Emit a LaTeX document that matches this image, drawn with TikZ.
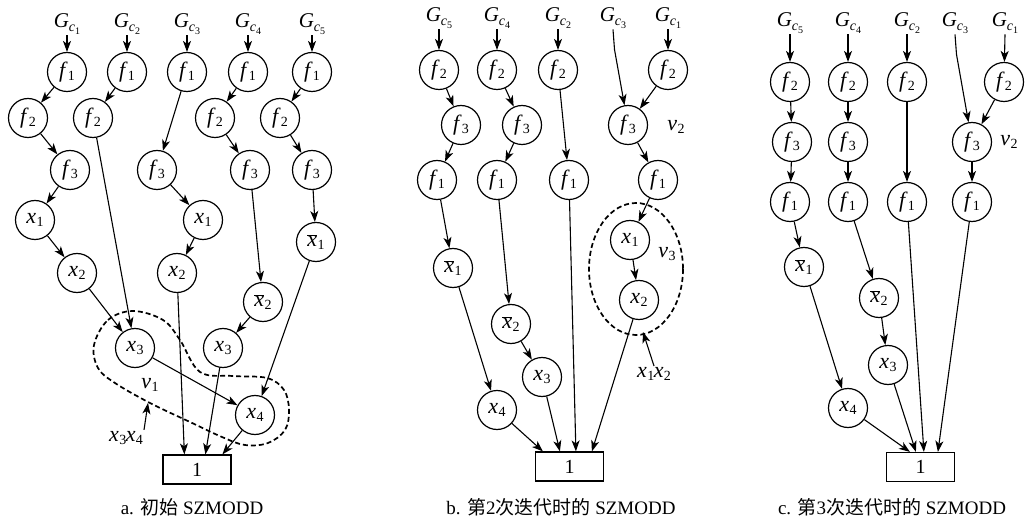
\documentclass[tikz,border=0pt]{standalone}
\usepackage{fontspec}
\setmainfont{Liberation Serif}
\newfontfamily\cjk{Noto Sans CJK SC}
\usetikzlibrary{arrows.meta}
\newcommand\sub[1]{\raisebox{-0.35ex}{\fontsize{14}{14}\selectfont #1}}
\newcommand\lab[2]{\textit{#1}\kern0.3pt\sub{#2}}
\newcommand\nlab[2]{$\overline{\mbox{\textit{#1}}}$\kern0.3pt\sub{#2}}
\newcommand\Gc[1]{\textit{G}\raisebox{-0.45ex}{\fontsize{14}{14}\selectfont\textit{c}\raisebox{-0.35ex}{\fontsize{10}{10}\selectfont #1}}}
\tikzset{
 vtx/.style={circle, draw, line width=1.2pt, minimum size=39pt, inner sep=0pt, font=\fontsize{22}{22}\selectfont},
 lbl/.style={inner sep=1pt, font=\fontsize{22}{22}\selectfont},
 glab/.style={inner sep=1pt, font=\fontsize{21}{21}\selectfont},
 arr/.style={-{Stealth[length=11pt,width=8pt,inset=3pt]}, line width=1.1pt},
 onebox/.style={draw, line width=1.2pt, minimum width=68pt, minimum height=29pt, inner sep=0pt, font=\fontsize{20}{20}\selectfont},
 captext/.style={inner sep=0pt, font=\fontsize{19}{19}\selectfont},
 blob/.style={line width=1.7pt, dash pattern=on 5pt off 3pt}
}
\begin{document}
\begin{tikzpicture}[x=1pt,y=-1pt]
\useasboundingbox (0,0) rectangle (1025,521);
% ================= panel a =================
\node[glab] (aG1) at (67,24) {\Gc{1}};
\node[glab] (aG2) at (127,24) {\Gc{2}};
\node[glab] (aG3) at (187,24) {\Gc{3}};
\node[glab] (aG4) at (248,24) {\Gc{4}};
\node[glab] (aG5) at (312,24) {\Gc{5}};
\node[vtx] (a1f1) at (67,72) {\lab{f}{1}};
\node[vtx] (a2f1) at (127,72) {\lab{f}{1}};
\node[vtx] (a3f1) at (187,72) {\lab{f}{1}};
\node[vtx] (a4f1) at (248,72) {\lab{f}{1}};
\node[vtx] (a5f1) at (312,72) {\lab{f}{1}};
\node[vtx] (a1f2) at (28,118) {\lab{f}{2}};
\node[vtx] (a2f2) at (93,118) {\lab{f}{2}};
\node[vtx] (a4f2) at (215,118) {\lab{f}{2}};
\node[vtx] (a5f2) at (280,118) {\lab{f}{2}};
\node[vtx] (a1f3) at (70,170) {\lab{f}{3}};
\node[vtx] (a3f3) at (157,170) {\lab{f}{3}};
\node[vtx] (a4f3) at (250,170) {\lab{f}{3}};
\node[vtx] (a5f3) at (312,170) {\lab{f}{3}};
\node[vtx] (a1x1) at (35,220) {\lab{x}{1}};
\node[vtx] (a3x1) at (203,220) {\lab{x}{1}};
\node[vtx] (a5nx1) at (316,242) {\nlab{x}{1}};
\node[vtx] (a1x2) at (77,273) {\lab{x}{2}};
\node[vtx] (a3x2) at (177,273) {\lab{x}{2}};
\node[vtx] (a4nx2) at (263,302) {\nlab{x}{2}};
\node[vtx] (ax3) at (135,348) {\lab{x}{3}};
\node[vtx] (a4x3) at (223,348) {\lab{x}{3}};
\node[vtx] (ax4) at (255,415) {\lab{x}{4}};
\node[onebox] (abox) at (197,469.5) {1};
\node[captext] (acap) at (192,507) {a. {\cjk 初始} SZMODD};
\node[lbl] (av1) at (150,385) {\lab{v}{1}};
\node[lbl] (ax3x4) at (126,438) {\lab{x}{3}\kern-0.5pt\lab{x}{4}};
\coordinate (aTip) at (148,403);
\draw[blob] plot[smooth cycle, tension=0.6] coordinates {(94,345) (108,320) (133,311) (163,320) (180,340) (200,372) (233,376) (267,378) (284,390) (289,410) (285,430) (268,443) (245,445) (222,437) (190,422) (150,403) (115,383) (98,368)};
\foreach \i in {1,...,5} {\draw[arr] (aG\i.south) -- (a\i f1);}
\draw[arr] (a1f1) -- (a1f2);
\draw[arr] (a1f2) -- (a1f3);
\draw[arr] (a1f3) -- (a1x1);
\draw[arr] (a1x1) -- (a1x2);
\draw[arr] (a1x2) -- (ax3);
\draw[arr] (a2f1) -- (a2f2);
\draw[arr] (a2f2) -- (ax3);
\draw[arr] (a3f1) -- (a3f3);
\draw[arr] (a3f3) -- (a3x1);
\draw[arr] (a3x1) -- (a3x2);
\draw[arr] (a3x2) -- ([xshift=22pt]abox.north west);
\draw[arr] (a4f1) -- (a4f2);
\draw[arr] (a4f2) -- (a4f3);
\draw[arr] (a4f3) -- (a4nx2);
\draw[arr] (a4nx2) -- (a4x3);
\draw[arr] (a4x3) -- ([xshift=43pt]abox.north west);
\draw[arr] (a5f1) -- (a5f2);
\draw[arr] (a5f2) -- (a5f3);
\draw[arr] (a5f3) -- (a5nx1);
\draw[arr] (a5nx1) -- (ax4);
\draw[arr] (ax3) -- (ax4);
\draw[arr] (ax4) -- ([xshift=60pt]abox.north west);
\draw[arr] (ax3x4.north east) -- (aTip);
% ================= panel b =================
\node[glab] (bG5) at (439,18) {\Gc{5}};
\node[glab] (bG4) at (497,18) {\Gc{4}};
\node[glab] (bG2) at (558,18) {\Gc{2}};
\node[glab] (bG3) at (613,18) {\Gc{3}};
\node[glab] (bG1) at (668,18) {\Gc{1}};
\node[vtx] (b1f2) at (439,70) {\lab{f}{2}};
\node[vtx] (b2f2) at (497,70) {\lab{f}{2}};
\node[vtx] (b3f2) at (558,70) {\lab{f}{2}};
\node[vtx] (b5f2) at (668,70) {\lab{f}{2}};
\node[vtx] (b1f3) at (461,125) {\lab{f}{3}};
\node[vtx] (b2f3) at (522,125) {\lab{f}{3}};
\node[vtx] (b4f3) at (628,125) {\lab{f}{3}};
\node[vtx] (b1f1) at (437,180) {\lab{f}{1}};
\node[vtx] (b2f1) at (497,180) {\lab{f}{1}};
\node[vtx] (b3f1) at (569,180) {\lab{f}{1}};
\node[vtx] (b4f1) at (658,180) {\lab{f}{1}};
\node[vtx] (bx1) at (630,240) {\lab{x}{1}};
\node[vtx] (bx2) at (639,300) {\lab{x}{2}};
\node[vtx] (bnx1) at (453,268) {\nlab{x}{1}};
\node[vtx] (bnx2) at (511,324) {\nlab{x}{2}};
\node[vtx] (bx3) at (542,377) {\lab{x}{3}};
\node[vtx] (bx4) at (497,410) {\lab{x}{4}};
\node[onebox] (bbox) at (569.5,466.5) {1};
\node[captext] (bcap) at (561,507) {b. {\cjk 第}2{\cjk 次迭代时的} SZMODD};
\node[lbl] (bv2) at (676,127) {\lab{v}{2}};
\node[lbl] (bv3) at (667,254) {\lab{v}{3}};
\node[lbl] (bx1x2) at (654,374) {\lab{x}{1}\kern-0.5pt\lab{x}{2}};
\coordinate (bTip) at (643,332);
\draw[blob] (636,269) ellipse [x radius=47, y radius=66];
\draw[arr] (bG5.south) -- (b1f2);
\draw[arr] (bG4.south) -- (b2f2);
\draw[arr] (bG2.south) -- (b3f2);
\draw[arr] (bG1.south) -- (b5f2);
\draw[arr] (bG3.south) -- ++(1.5,20) -- (b4f3);
\draw[arr] (b1f2) -- (b1f3);
\draw[arr] (b1f3) -- (b1f1);
\draw[arr] (b1f1) -- (bnx1);
\draw[arr] (bnx1) -- (bx4);
\draw[arr] (bx4) -- ([xshift=8pt]bbox.north west);
\draw[arr] (b2f2) -- (b2f3);
\draw[arr] (b2f3) -- (b2f1);
\draw[arr] (b2f1) -- (bnx2);
\draw[arr] (bnx2) -- (bx3);
\draw[arr] (bx3) -- ([xshift=25pt]bbox.north west);
\draw[arr] (b3f2) -- (b3f1);
\draw[arr] (b3f1) -- ([xshift=41pt]bbox.north west);
\draw[arr] (b5f2) -- (b4f3);
\draw[arr] (b4f3) -- (b4f1);
\draw[arr] (b4f1) -- (bx1);
\draw[arr] (bx1) -- (bx2);
\draw[arr] (bx2) -- ([xshift=57pt]bbox.north west);
\draw[arr] (bx1x2.north) -- (bTip);
% ================= panel c =================
\node[glab] (cG5) at (790,23) {\Gc{5}};
\node[glab] (cG4) at (848,23) {\Gc{4}};
\node[glab] (cG2) at (907,23) {\Gc{2}};
\node[glab] (cG3) at (955,23) {\Gc{3}};
\node[glab] (cG1) at (1005,23) {\Gc{1}};
\node[vtx] (c1f2) at (790,82) {\lab{f}{2}};
\node[vtx] (c2f2) at (848,82) {\lab{f}{2}};
\node[vtx] (c3f2) at (907,82) {\lab{f}{2}};
\node[vtx] (c5f2) at (1004,82) {\lab{f}{2}};
\node[vtx] (c1f3) at (792,142) {\lab{f}{3}};
\node[vtx] (c2f3) at (848,142) {\lab{f}{3}};
\node[vtx] (c4f3) at (972,142) {\lab{f}{3}};
\node[vtx] (c1f1) at (790,202) {\lab{f}{1}};
\node[vtx] (c2f1) at (848,202) {\lab{f}{1}};
\node[vtx] (c3f1) at (907,202) {\lab{f}{1}};
\node[vtx] (c4f1) at (972,202) {\lab{f}{1}};
\node[vtx] (cnx1) at (804,267) {\nlab{x}{1}};
\node[vtx] (cnx2) at (879,298) {\nlab{x}{2}};
\node[vtx] (cx3) at (888,365) {\lab{x}{3}};
\node[vtx] (cx4) at (848,408) {\lab{x}{4}};
\node[onebox] (cbox) at (920.5,467) {1};
\node[captext] (ccap) at (892,507) {c. {\cjk 第}3{\cjk 次迭代时的} SZMODD};
\node[lbl] (cv2) at (1009,142) {\lab{v}{2}};
\draw[arr] (cG5.south) -- (c1f2);
\draw[arr] (cG4.south) -- (c2f2);
\draw[arr] (cG2.south) -- (c3f2);
\draw[arr] (cG1.south) -- (c5f2);
\draw[arr] (cG3.south) -- ++(1.5,20) -- (c4f3);
\draw[arr] (c1f2) -- (c1f3);
\draw[arr] (c1f3) -- (c1f1);
\draw[arr] (c1f1) -- (cnx1);
\draw[arr] (cnx1) -- (cx4);
\draw[arr] (cx4) -- ([xshift=24pt]cbox.north west);
\draw[arr] (c2f2) -- (c2f3);
\draw[arr] (c2f3) -- (c2f1);
\draw[arr] (c2f1) -- (cnx2);
\draw[arr] (cnx2) -- (cx3);
\draw[arr] (cx3) -- ([xshift=30pt]cbox.north west);
\draw[arr] (c3f2) -- (c3f1);
\draw[arr] (c3f1) -- ([xshift=38pt]cbox.north west);
\draw[arr] (c5f2) -- (c4f3);
\draw[arr] (c4f3) -- (c4f1);
\draw[arr] (c4f1) -- ([xshift=52pt]cbox.north west);
\end{tikzpicture}
\end{document}
